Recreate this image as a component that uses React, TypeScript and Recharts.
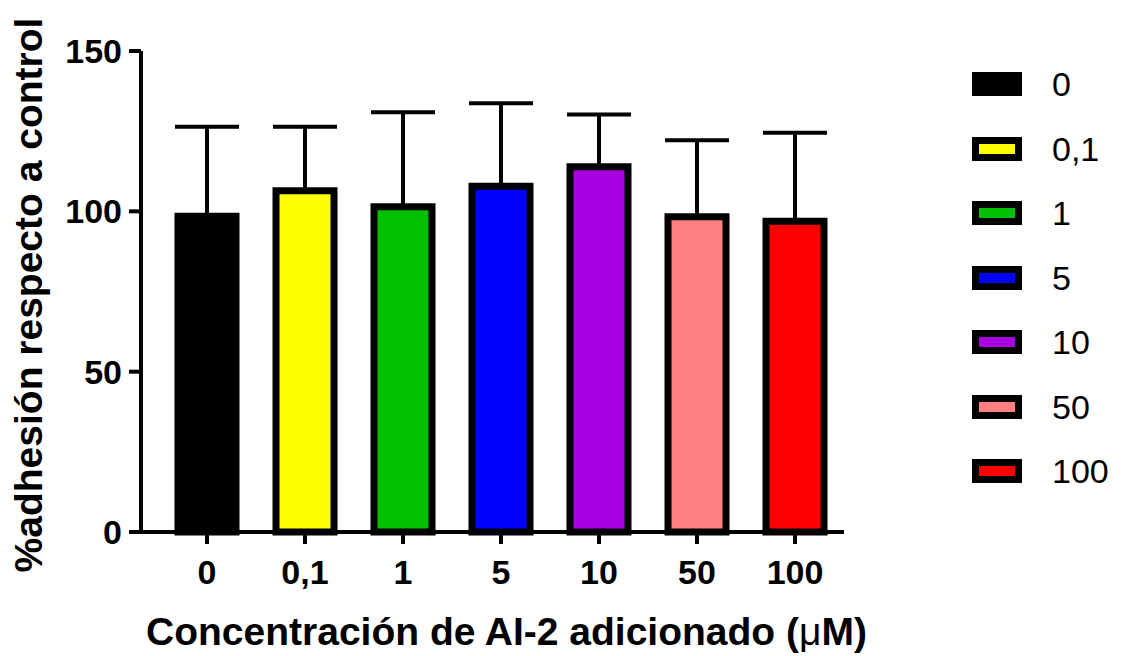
import React from "react";
import { BarChart, Bar, XAxis, YAxis, Cell, ErrorBar, Legend, Label } from "recharts";

const categories = ["0", "0,1", "1", "5", "10", "50", "100"];
const means = [98.5, 106.4, 101.4, 107.8, 113.9, 98.3, 96.9];
const errUpper = [27.9, 20.0, 29.5, 25.9, 16.3, 23.9, 27.6];
const colors = ["#000000", "#ffff00", "#00c000", "#0000ff", "#a800e0", "#ff8080", "#ff0000"];
const yTicks = [0, 50, 100, 150];

const FONT = "'Liberation Sans', Arial, Helvetica, sans-serif";

const data = categories.map((name, i) => ({
  name,
  value: means[i],
  err: [0, errUpper[i]],
}));

function LegendBox() {
  return (
    <div style={{ fontFamily: FONT }}>
      {categories.map((c, i) => (
        <div
          key={c}
          style={{ display: "flex", alignItems: "center", height: 24, marginBottom: 40.5 }}
        >
          <div
            style={{
              width: 50,
              height: 24,
              boxSizing: "border-box",
              border: "7px solid #000",
              background: colors[i],
            }}
          />
          <span style={{ marginLeft: 30, fontSize: 34, lineHeight: "24px", color: "#000" }}>
            {c}
          </span>
        </div>
      ))}
    </div>
  );
}

function XTitle(props: any) {
  const vb = props.viewBox;
  return (
    <text
      x={vb.x + vb.width / 2 + 14}
      y={645}
      textAnchor="middle"
      fontFamily={FONT}
      fontSize={39}
      fontWeight="bold"
      fill="#000"
    >
      Concentración de AI-2 adicionado (<tspan fontWeight="normal">μ</tspan>M)
    </text>
  );
}

function YTitle() {
  const cx = 42;
  const cy = 295;
  return (
    <text
      x={cx}
      y={cy}
      transform={`rotate(-90, ${cx}, ${cy})`}
      textAnchor="middle"
      fontFamily={FONT}
      fontSize={39}
      fontWeight="bold"
      fill="#000"
    >
      %adhesión respecto a control
    </text>
  );
}

export default function App() {
  return (
    <div style={{ position: "absolute", left: 0, top: 0, width: 1126, height: 656, background: "#fff" }}>
      <BarChart
        width={1126}
        height={656}
        data={data}
        margin={{ top: 51, right: 282, bottom: 24, left: 0 }}
      >
        <XAxis
          dataKey="name"
          height={100}
          padding={{ left: 17, right: 0 }}
          axisLine={{ stroke: "#000", strokeWidth: 4 }}
          tickLine={{ stroke: "#000", strokeWidth: 4 }}
          tickSize={12}
          tickMargin={16}
          tick={{ fill: "#000", fontSize: 34, fontWeight: "bold", fontFamily: FONT }}
          interval={0}
        >
          <Label content={<XTitle />} />
        </XAxis>
        <YAxis
          width={141}
          domain={[0, 150]}
          ticks={yTicks}
          axisLine={{ stroke: "#000", strokeWidth: 4 }}
          tickLine={{ stroke: "#000", strokeWidth: 4 }}
          tickSize={12}
          tickMargin={7}
          tick={{ fill: "#000", fontSize: 34, fontWeight: "bold", fontFamily: FONT }}
        >
          <Label content={<YTitle />} />
        </YAxis>
        <Bar dataKey="value" barSize={58} stroke="#000" strokeWidth={7} isAnimationActive={false}>
          {data.map((d, i) => (
            <Cell key={d.name} fill={colors[i]} />
          ))}
          <ErrorBar dataKey="err" direction="y" width={32} stroke="#000" strokeWidth={4} />
        </Bar>
        <Legend
          layout="vertical"
          align="center"
          verticalAlign="middle"
          content={<LegendBox />}
          wrapperStyle={{ left: 972, top: 72, width: 154 }}
        />
      </BarChart>
    </div>
  );
}
